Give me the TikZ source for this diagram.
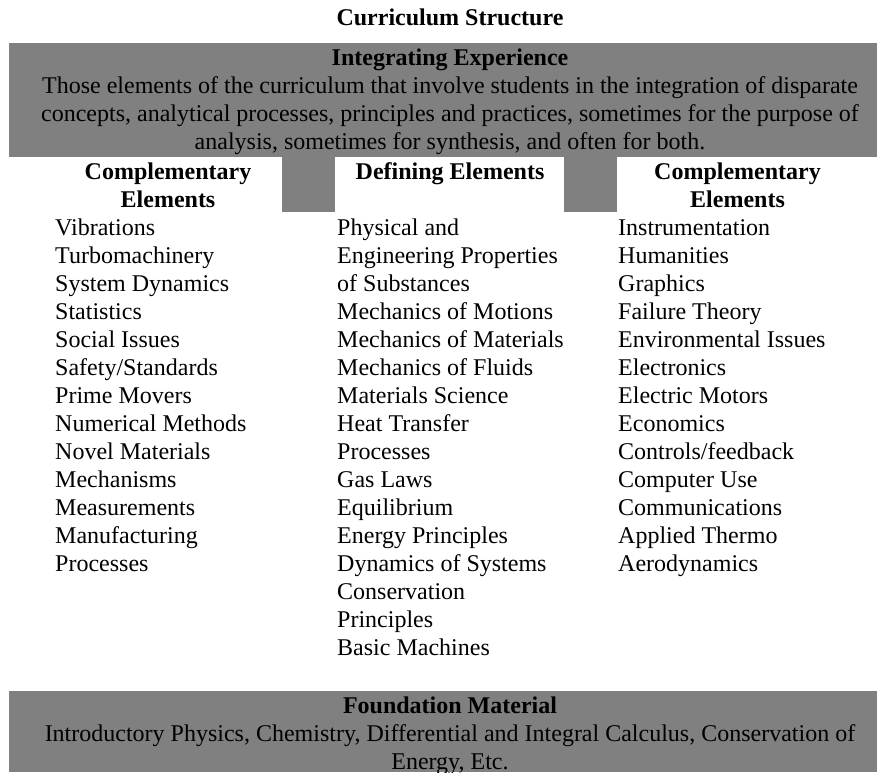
\documentclass[tikz,border=0pt]{standalone}
\usepackage{fontspec}
\setmainfont{Liberation Serif}
\begin{document}
\begin{tikzpicture}[x=1pt,y=-1pt,
  txt/.style={inner sep=0pt,font=\fontsize{24}{28}\selectfont},
  bold/.style={txt,font=\fontsize{24}{28}\selectfont\bfseries},
  item/.style={txt,anchor=base west},
  banner/.style={fill=gray50,draw=none}]
\colorlet{gray50}{black!50}
\useasboundingbox (0,0) rectangle (877,772);
% banners and pillars
\fill[banner] (9,43) rectangle (877,157);
\fill[banner] (282,156) rectangle (335,212);
\fill[banner] (564,156) rectangle (617,212);
\fill[banner] (9,691) rectangle (877,772);
% title
\node[bold,anchor=base] (title) at (450,25) {Curriculum Structure};
% top banner
\node[bold,anchor=base] (integ) at (450,65) {Integrating Experience};
\node[txt,anchor=base] (integA) at (450,93) {Those elements of the curriculum that involve students in the integration of disparate};
\node[txt,anchor=base] (integB) at (450,121) {concepts, analytical processes, principles and practices, sometimes for the purpose of};
\node[txt,anchor=base] (integC) at (450,149) {analysis, sometimes for synthesis, and often for both.};
% headers
\node[bold,anchor=base] (hL1) at (168,179) {Complementary};
\node[bold,anchor=base] (hL2) at (168,207) {Elements};
\node[bold,anchor=base] (hM1) at (450,179) {Defining Elements};
\node[bold,anchor=base] (hR1) at (737.5,179) {Complementary};
\node[bold,anchor=base] (hR2) at (737.5,207) {Elements};
% left column
\foreach \t [count=\i] in {Vibrations,Turbomachinery,System Dynamics,Statistics,Social Issues,Safety/Standards,Prime Movers,Numerical Methods,Novel Materials,Mechanisms,Measurements,Manufacturing,Processes}
  \node[item] (L\i) at (55,{235+28*(\i-1)}) {\t};
% middle column
\foreach \t [count=\i] in {Physical and,Engineering Properties,of Substances,Mechanics of Motions,Mechanics of Materials,Mechanics of Fluids,Materials Science,Heat Transfer,Processes,Gas Laws,Equilibrium,Energy Principles,Dynamics of Systems,Conservation,Principles,Basic Machines}
  \node[item] (M\i) at (337,{235+28*(\i-1)}) {\t};
% right column
\foreach \t [count=\i] in {Instrumentation,Humanities,Graphics,Failure Theory,Environmental Issues,Electronics,Electric Motors,Economics,Controls/feedback,Computer Use,Communications,Applied Thermo,Aerodynamics}
  \node[item] (R\i) at (618,{235+28*(\i-1)}) {\t};
% bottom banner
\node[bold,anchor=base] (found) at (450,713) {Foundation Material};
\node[txt,anchor=base] (foundA) at (450,741) {Introductory Physics, Chemistry, Differential and Integral Calculus, Conservation of};
\node[txt,anchor=base] (foundB) at (450,769) {Energy, Etc.};
\end{tikzpicture}
\end{document}
